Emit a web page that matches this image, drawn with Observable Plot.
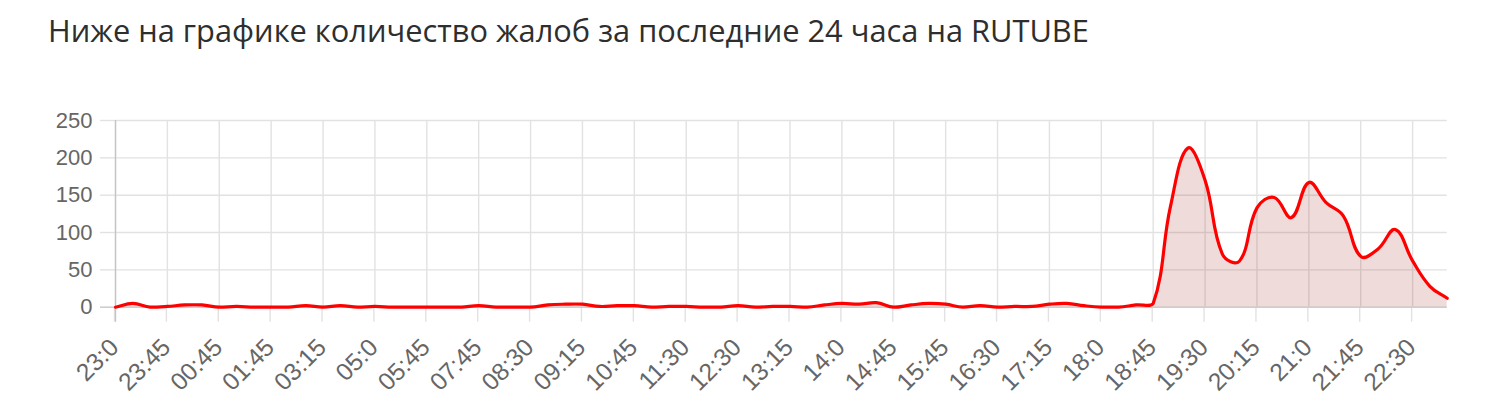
<!DOCTYPE html>
<html>
<head>
<meta charset="utf-8">
<script src="https://cdn.jsdelivr.net/npm/d3@7"></script>
<script src="https://cdn.jsdelivr.net/npm/@observablehq/plot@0.6"></script>
<style>
  html, body { margin: 0; padding: 0; background: #fff; }
  #title { height: 80px; position: relative; }
  #title span { position: absolute; left: 48px; top: 0px; line-height: 60px;
    font-family: "Open Sans", sans-serif; font-size: 30.8px; font-weight: 500; color: #2e2e2e; white-space: nowrap; }
  #chart svg { display: block; }
</style>
</head>
<body>
<div id="title"><span>Ниже на графике количество жалоб за последние 24 часа на RUTUBE</span></div>
<div id="chart"></div>
<script>
const titleText = "Ниже на графике количество жалоб за последние 24 часа на RUTUBE";

const timeLabels = [
  "23:0","23:15","23:30","23:45","00:15","00:30","00:45","01:15","01:30","01:45",
  "02:15","02:45","03:15","03:45","04:30","05:0","05:15","05:30","05:45","06:30",
  "07:15","07:45","08:0","08:15","08:30","08:45","09:0","09:15","09:45","10:15",
  "10:45","11:0","11:15","11:30","11:45","12:15","12:30","12:45","13:0","13:15",
  "13:30","13:45","14:0","14:15","14:30","14:45","15:0","15:30","15:45","16:0",
  "16:15","16:30","16:45","17:0","17:15","17:30","17:45","18:0","18:15","18:30",
  "18:45","19:0","19:15","19:30","19:45","20:0","20:15","20:30","20:45","21:0",
  "21:15","21:30","21:45","22:0","22:15","22:30","22:45","23:0"
];

const complaints = [
  0, 5, 0, 1, 3, 3, 0, 1, 0, 0,
  0, 2, 0, 2, 0, 1, 0, 0, 0, 0,
  0, 2, 0, 0, 0, 3, 4, 4, 1, 2,
  2, 0, 1, 1, 0, 0, 2, 0, 1, 1,
  0, 3, 5, 4, 6, 0, 3, 5, 4, 0,
  2, 0, 1, 1, 4, 5, 2, 0, 0, 3,
  5, 135, 213, 170, 71, 62, 133, 147, 120, 167,
  140, 122, 68, 78, 104, 62, 28, 12
];

const yTicks = [0, 50, 100, 150, 200, 250];
const labelStep = 3;

const data = complaints.map((v, i) => ({i, label: timeLabels[i], value: v}));
const xTicks = d3.range(0, complaints.length, labelStep);

const W = 1486, H = 324;
const mL = 115, mR = 39.3, mT = 40, mB = 97.3;

// Chart.js-style cubic spline (tension, capped to the plot area)
function chartjsCurve(tension, area) {
  return function(context) {
    let pts = [], lineState;
    const cap = (v, a, b) => Math.max(Math.min(v, b), a);
    return {
      areaStart() { lineState = 0; },
      areaEnd() { lineState = NaN; },
      lineStart() { pts = []; },
      point(x, y) { pts.push([+x, +y]); },
      lineEnd() {
        const n = pts.length;
        if (n) {
          if (lineState) context.lineTo(pts[0][0], pts[0][1]);
          else context.moveTo(pts[0][0], pts[0][1]);
          const cps = pts.map((c, k) => {
            const p = pts[Math.max(k - 1, 0)], nx = pts[Math.min(k + 1, n - 1)];
            const d01 = Math.hypot(c[0] - p[0], c[1] - p[1]);
            const d12 = Math.hypot(nx[0] - c[0], nx[1] - c[1]);
            let s01 = d01 / (d01 + d12), s12 = d12 / (d01 + d12);
            if (isNaN(s01)) s01 = 0;
            if (isNaN(s12)) s12 = 0;
            const fa = tension * s01, fb = tension * s12;
            return {
              px: cap(c[0] - fa * (nx[0] - p[0]), area.left, area.right),
              py: cap(c[1] - fa * (nx[1] - p[1]), area.top, area.bottom),
              nx: cap(c[0] + fb * (nx[0] - p[0]), area.left, area.right),
              ny: cap(c[1] + fb * (nx[1] - p[1]), area.top, area.bottom)
            };
          });
          for (let k = 1; k < n; ++k) {
            context.bezierCurveTo(cps[k - 1].nx, cps[k - 1].ny, cps[k].px, cps[k].py, pts[k][0], pts[k][1]);
          }
        }
        if (lineState || (lineState !== 0 && n === 1)) context.closePath();
        lineState = 1 - lineState;
      }
    };
  };
}

const curve = chartjsCurve(0.4, {left: mL, right: W - mR, top: mT, bottom: H - mB});

const gridColor = "#e2e2e2";
const axisColor = "#c4c4c4";

const chart = Plot.plot({
  width: W,
  height: H,
  marginLeft: mL,
  marginRight: mR,
  marginTop: mT,
  marginBottom: mB,
  style: {fontFamily: "'Liberation Sans', Arial, Helvetica, sans-serif", fontSize: "22px", background: "#fff"},
  x: {type: "linear", domain: [0, complaints.length - 1]},
  y: {domain: [0, 250]},
  marks: [
    Plot.gridY(yTicks, {stroke: gridColor, strokeOpacity: 1, strokeWidth: 1.4}),
    Plot.gridX(xTicks, {stroke: gridColor, strokeOpacity: 1, strokeWidth: 1.4}),
    Plot.axisY(yTicks, {tickSize: 15, tickPadding: 8, stroke: gridColor, strokeWidth: 1.4, fill: "#666", label: null}),
    Plot.axisX(xTicks, {tickSize: 15, tickPadding: 21, stroke: gridColor, strokeWidth: 1.4, fill: "#666",
      fontSize: 24.5, dx: -1, tickRotate: -45, tickFormat: i => timeLabels[i], label: null}),
    Plot.ruleX([0], {stroke: axisColor, strokeWidth: 1.4, insetBottom: -15}),
    Plot.areaY(data, {x: "i", y: "value", curve, fill: "rgb(150,0,0)", fillOpacity: 0.14}),
    Plot.ruleY([0], {stroke: axisColor, strokeWidth: 1.4, strokeOpacity: 0.7, insetLeft: -15}),
    Plot.line(data, {x: "i", y: "value", curve, stroke: "#ff0000", strokeWidth: 3.2})
  ]
});
document.getElementById("chart").appendChild(chart);
</script>
</body>
</html>
